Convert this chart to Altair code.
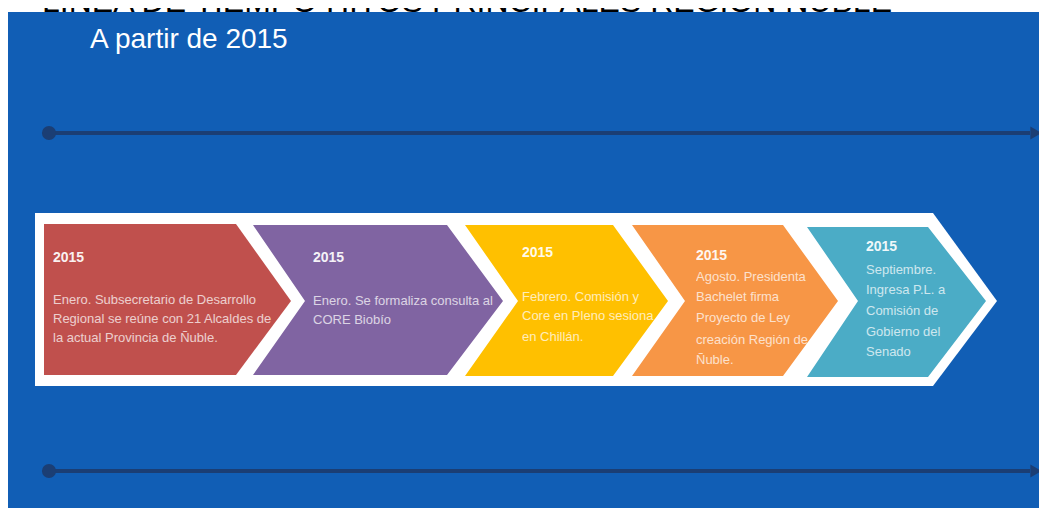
import altair as alt
import pandas as pd

# ---------------- content ----------------
TITLE = "LINEA DE TIEMPO HITOS PRINCIPALES REGION ÑUBLE"
SUBTITLE = "A partir de 2015"

step_years = ["2015", "2015", "2015", "2015", "2015"]
step_texts = [
    ["Enero. Subsecretario de Desarrollo", "Regional se reúne con 21 Alcaldes de", "la actual Provincia de Ñuble."],
    ["Enero. Se formaliza consulta al", "CORE Biobío"],
    ["Febrero. Comisión y", "Core en Pleno sesiona", "en Chillán."],
    ["Agosto. Presidenta", "Bachelet firma", "Proyecto de Ley", "creación Región de", "Ñuble."],
    ["Septiembre.", "Ingresa P.L.  a", "Comisión de", "Gobierno del", "Senado"],
]
step_colors = ["#C0504D", "#8064A2", "#FFC000", "#F79646", "#4BACC6"]

# ---------------- layout (page pixel coordinates) ----------------
step_left = [44, 253, 465, 632, 807]
step_notch = [0, 52, 53, 53, 51]
step_right = [236, 447, 613, 783, 928]
step_tip = [291, 503, 668, 838, 986]
step_top = [224, 225, 225, 225, 227]
step_bottom = [375, 375, 376, 376, 377]
step_mid = 301

band_x = [35, 933, 997, 933, 35]
band_y = [213, 213, 301, 386, 386]

text_x = [53, 313, 522, 696, 866]
year_y = [258, 258, 253, 256, 247]
line_y = [[300, 319, 338], [301, 320], [297, 316, 337],
          [277, 297, 318, 340, 360], [270, 290, 311, 332, 352]]

timeline_y = [133, 471]
timeline_x0 = 49
timeline_x1 = 1036

BLUE = "#115EB5"
NAVY = "#1B3E74"
SANS = "Liberation Sans, Arial, sans-serif"

W, H = 1031, 500
xs = alt.Scale(domain=[8, 8 + W], nice=False, zero=False)
ys = alt.Scale(domain=[8, 8 + H], nice=False, zero=False, reverse=True)


def X(f="x"):
    return alt.X(f"{f}:Q", scale=xs, axis=None)


def Y(f="y"):
    return alt.Y(f"{f}:Q", scale=ys, axis=None)


# ---------------- tables ----------------
title_df = pd.DataFrame({"x": [42], "y": [12], "t": [TITLE]})
sub_df = pd.DataFrame({"x": [90], "y": [48], "t": [SUBTITLE]})
panel_df = pd.DataFrame({"x": [8], "x2": [8 + W], "y": [12], "y2": [8 + H]})

tl_df = pd.DataFrame({"x": [timeline_x0] * 2, "x2": [timeline_x1 - 6] * 2, "y": timeline_y})
dot_df = pd.DataFrame({"x": [timeline_x0] * 2, "y": timeline_y})
arrow_df = pd.DataFrame({"x": [timeline_x1] * 2, "y": timeline_y})

band_df = pd.DataFrame({"x": band_x, "y": band_y, "o": list(range(len(band_x)))})

rows = []
for i in range(len(step_colors)):
    L, N, R, T = step_left[i], step_notch[i], step_right[i], step_tip[i]
    top, bot = step_top[i], step_bottom[i]
    pts = [(L, top), (R, top), (T, step_mid), (R, bot), (L, bot), (L + N, step_mid)]
    for k, (px, py) in enumerate(pts):
        rows.append({"id": i, "o": k, "x": px, "y": py, "col": step_colors[i]})
chev_df = pd.DataFrame(rows)

yr_df = pd.DataFrame({"x": text_x, "y": year_y, "t": step_years})
trows = []
for i, lines in enumerate(step_texts):
    for j, ln in enumerate(lines):
        trows.append({"x": text_x[i], "y": line_y[i][j], "t": ln})
txt_df = pd.DataFrame(trows)

# ---------------- layers ----------------
title = alt.Chart(title_df).mark_text(
    align="left", baseline="alphabetic", fontSize=32, font=SANS, color="black"
).encode(x=X(), y=Y(), text="t:N")

panel = alt.Chart(panel_df).mark_rect(color=BLUE).encode(x=X(), x2="x2", y=Y(), y2="y2")

subtitle = alt.Chart(sub_df).mark_text(
    align="left", baseline="alphabetic", fontSize=28, font=SANS, color="white"
).encode(x=X(), y=Y(), text="t:N")

tl = alt.Chart(tl_df).mark_rule(color=NAVY, strokeWidth=4).encode(x=X(), x2="x2", y=Y())
dots = alt.Chart(dot_df).mark_point(shape="circle", filled=True, size=200, color=NAVY, opacity=1).encode(x=X(), y=Y())
arrows = alt.Chart(arrow_df).mark_point(shape="triangle-right", filled=True, size=170, color=NAVY, opacity=1).encode(x=X(), y=Y())

band = alt.Chart(band_df).mark_line(filled=True, color="white", strokeWidth=0, interpolate="linear-closed").encode(
    x=X(), y=Y(), order="o:Q"
)

chev = alt.Chart(chev_df).mark_line(filled=True, strokeWidth=0, interpolate="linear-closed").encode(
    x=X(), y=Y(), order="o:Q", detail="id:N",
    color=alt.Color("col:N", scale=None, legend=None),
)

years = alt.Chart(yr_df).mark_text(
    align="left", baseline="middle", fontSize=14, fontWeight="bold", font=SANS, color="white", opacity=0.92
).encode(x=X(), y=Y(), text="t:N")

texts = alt.Chart(txt_df).mark_text(
    align="left", baseline="middle", fontSize=13, font=SANS, color="white", opacity=0.72
).encode(x=X(), y=Y(), text="t:N")

chart = alt.layer(title, panel, subtitle, tl, dots, arrows, band, chev, years, texts).properties(
    width=W, height=H, padding=0, background="white",
    autosize=alt.AutoSizeParams(type="none"),
).configure_view(strokeWidth=0)

chart.save("out.html", embed_options={"renderer": "svg", "actions": False})
